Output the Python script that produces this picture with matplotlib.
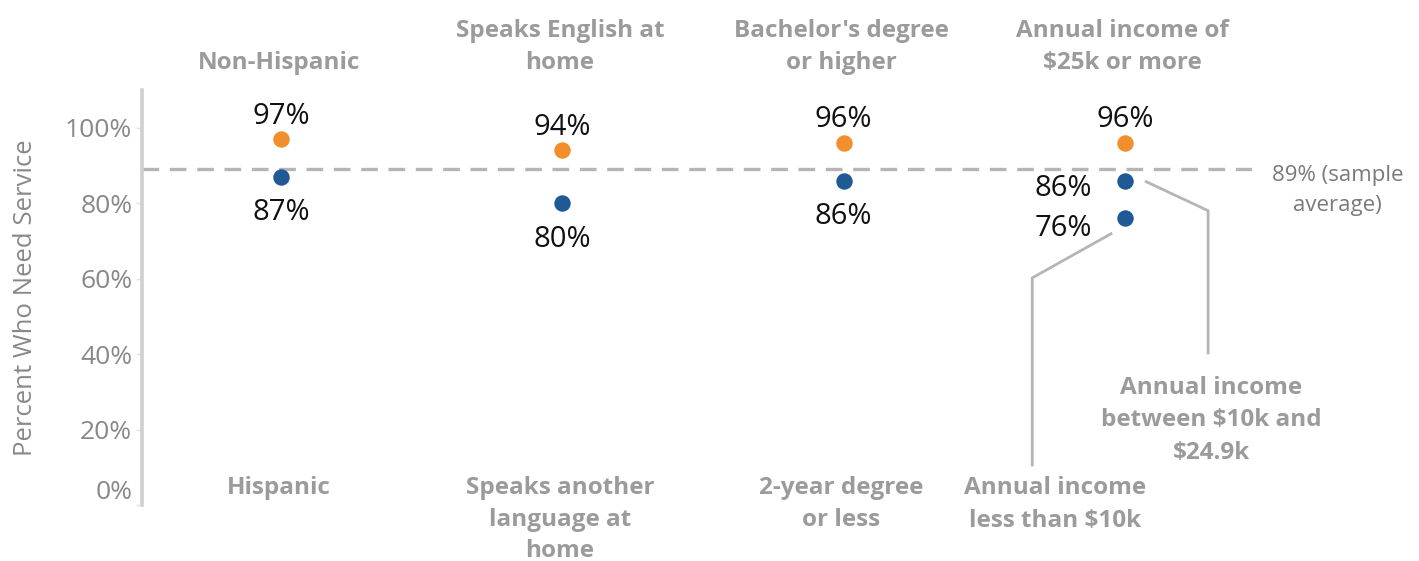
import matplotlib
matplotlib.use("Agg")
import matplotlib.pyplot as plt

# ---- data ----
top_labels = ["Non-Hispanic", "Speaks English at\nhome", "Bachelor's degree\nor higher",
              "Annual income of\n$25k or more"]
bottom_labels = ["Hispanic", "Speaks another\nlanguage at\nhome", "2-year degree\nor less"]
orange_values = [97, 94, 96, 96]
blue_values = [87, 80, 86]
income_labels = ["Annual income\nbetween $10k and\n$24.9k", "Annual income\nless than $10k"]
income_values = [86, 76]
sample_average = 89
y_ticks = [0, 20, 40, 60, 80, 100]
y_tick_labels = ["0%", "20%", "40%", "60%", "80%", "100%"]

ORANGE = "#F28E2B"
BLUE = "#1F5A96"
CAT_GRAY = "#9B9B9B"
TICK_GRAY = "#888888"
CAT_FS = 17.5
CAT_LS = 1.48
VAL_FS = 21

plt.rcParams['font.family'] = ['Open Sans', 'DejaVu Sans']

fig = plt.figure(figsize=(14.19, 5.61), dpi=100)
ax = fig.add_axes([142 / 1419, 1 - 505 / 561, 1110 / 1419, 415 / 561])

x_pos = list(range(len(top_labels)))
ax.set_xlim(-0.494, 3.451)
ax.set_ylim(0, 110)

# reference line
ax.axhline(sample_average, color="#B5B5B5", lw=2.4, dashes=(5, 3.2), zorder=1)
ax.text(3.754, 83.4, f"{sample_average}% (sample\naverage)", ha="center", va="center",
        fontsize=16, color="#7A7A7A", clip_on=False, linespacing=1.55)

# orange points
ax.scatter(x_pos, orange_values, s=140, color=ORANGE, zorder=3, linewidths=0)
for x, v in zip(x_pos, orange_values):
    ax.annotate(f"{v}%", (x, v), xytext=(0, 16.5), textcoords="offset points",
                ha="center", va="center", fontsize=VAL_FS, color="#111111")

# blue points (first three)
bx = x_pos[:len(blue_values)]
ax.scatter(bx, blue_values, s=140, color=BLUE, zorder=3, linewidths=0)
for x, v in zip(bx, blue_values):
    ax.annotate(f"{v}%", (x, v), xytext=(0, -26), textcoords="offset points",
                ha="center", va="center", fontsize=VAL_FS, color="#111111")

# income blue points
ix = [x_pos[3]] * len(income_values)
ax.scatter(ix, income_values, s=140, color=BLUE, zorder=3, linewidths=0)
for x, v, dy in zip(ix, income_values, [-5.8, -7.2]):
    ax.annotate(f"{v}%", (x, v), xytext=(-44.6, dy), textcoords="offset points",
                ha="center", va="center", fontsize=VAL_FS, color="#111111")

# leader lines for income annotations
ax.plot([3.075, 3.295, 3.295], [85.7, 78.0, 40.3], color="#B5B5B5", lw=2, zorder=2,
        clip_on=False)
ax.plot([2.95, 2.67, 2.67], [71.9, 60.2, 10.6], color="#B5B5B5", lw=2, zorder=2,
        clip_on=False)

# category labels
for x, lab in zip(x_pos, top_labels):
    ax.text(x - 0.008, 113.9, lab, ha="center", va="bottom", fontsize=CAT_FS,
            fontweight="bold", color=CAT_GRAY, clip_on=False, linespacing=CAT_LS)
for x, lab in zip(x_pos, bottom_labels):
    ax.text(x - 0.008, 7.6, lab, ha="center", va="top", fontsize=CAT_FS,
            fontweight="bold", color=CAT_GRAY, clip_on=False, linespacing=1.42)
ax.text(3.306, 34.3, income_labels[0], ha="center", va="top", fontsize=CAT_FS,
        fontweight="bold", color=CAT_GRAY, clip_on=False, linespacing=CAT_LS)
ax.text(2.751, 7.6, income_labels[1], ha="center", va="top", fontsize=CAT_FS,
        fontweight="bold", color=CAT_GRAY, clip_on=False, linespacing=CAT_LS)

# axes styling
for s in ["top", "right", "bottom"]:
    ax.spines[s].set_visible(False)
ax.spines["left"].set_color("#CFCFCF")
ax.spines["left"].set_linewidth(2.6)
ax.set_xticks([])
ax.set_yticks(y_ticks)
ax.set_yticklabels(y_tick_labels)
ax.tick_params(axis="y", length=4, width=1, color="#E3E3E3", pad=3,
               labelsize=19, labelcolor=TICK_GRAY)
ax.get_yticklabels()[0].set_verticalalignment("bottom")
ax.set_ylabel("Percent Who Need Service", fontsize=18.5, color=TICK_GRAY)
ax.yaxis.set_label_coords(-0.094, 0.5)

fig.savefig("out.png", dpi=100)
